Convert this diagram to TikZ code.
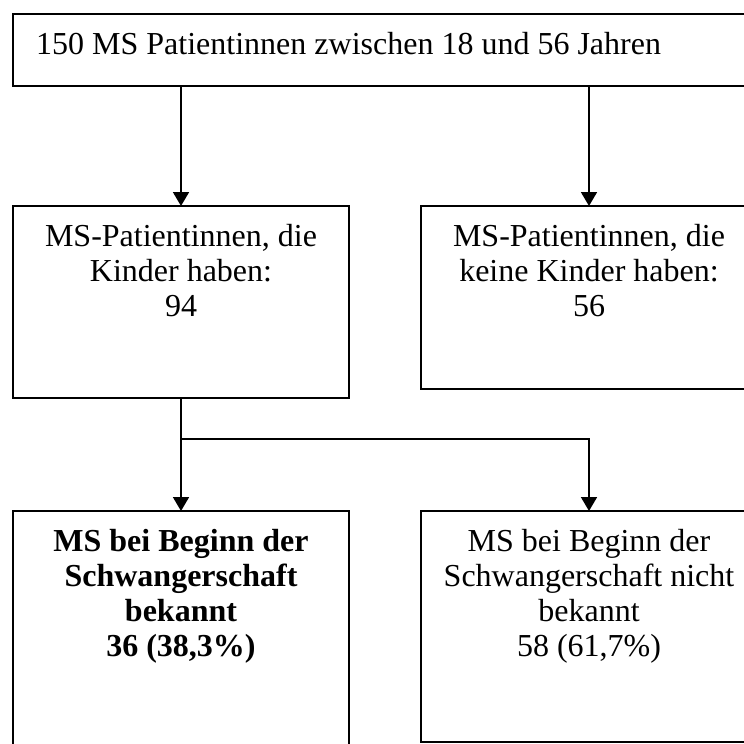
\documentclass[tikz,border=0pt]{standalone}
\usepackage{fontspec}
\setmainfont{Liberation Serif}
\usetikzlibrary{arrows.meta}
\begin{document}
\begin{tikzpicture}[x=1pt,y=-1pt,
  boxa/.style={draw,rectangle,line width=2.6pt,inner sep=0pt,outer sep=0pt,anchor=north west},
  boxb/.style={draw,rectangle,line width=2pt,inner sep=0pt,outer sep=0pt,anchor=north west},
  txt/.style={inner sep=0pt,align=center,font=\fontsize{32}{35}\selectfont},
  conn/.style={line width=1.8pt},
  arr/.style={line width=1.8pt,-{Triangle[width=16pt,length=14pt]}}]
\useasboundingbox (0,0) rectangle (744,744);
\clip (0,0) rectangle (744,744);
\node[boxa,minimum width=744pt,minimum height=72pt] (top) at (13,14) {};
\node[boxa,minimum width=336pt,minimum height=192pt] (lbox) at (13,206) {};
\node[boxb,minimum width=336pt,minimum height=183pt] (rbox) at (421,206) {};
\node[boxa,minimum width=336pt,minimum height=279pt] (blbox) at (13,511) {};
\node[boxb,minimum width=336pt,minimum height=231pt] (brbox) at (421,511) {};
\node[txt,anchor=base west] (t0) at (36,54) {150 MS Patientinnen zwischen 18 und 56 Jahren};
\node[txt,anchor=north] (t1) at (181,224) {MS-Patientinnen, die\\Kinder haben:\\94};
\node[txt,anchor=north] (t2) at (589,224) {MS-Patientinnen, die\\keine Kinder haben:\\56};
\node[txt,anchor=north,font=\fontsize{32}{35}\selectfont\bfseries] (t3) at (181,529) {MS bei Beginn der\\Schwangerschaft\\bekannt\\36 (38,3\%)};
\node[txt,anchor=north] (t4) at (589,529) {MS bei Beginn der\\Schwangerschaft nicht\\bekannt\\58 (61,7\%)};
\coordinate (j) at (181,439);
\draw[arr] (top.south -| lbox.north) -- (lbox.north);
\draw[arr] (top.south -| rbox.north) -- (rbox.north);
\draw[conn] (lbox.south) -- (j);
\draw[arr] (j) -- (blbox.north);
\draw[arr] (j) -| (brbox.north);
\end{tikzpicture}
\end{document}
